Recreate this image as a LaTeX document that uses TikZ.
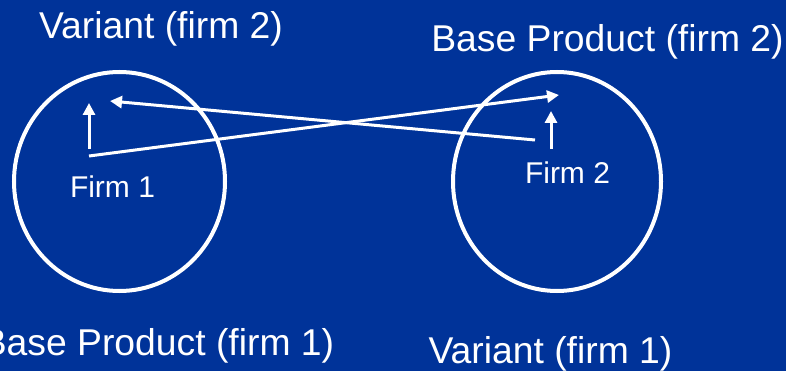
\documentclass[tikz,border=0pt]{standalone}
\usepackage{fontspec}
\setmainfont{Liberation Sans}
\usetikzlibrary{arrows.meta,shapes.geometric}
\definecolor{bgblue}{RGB}{0,51,153}
\tikzset{
  bigtext/.style={text=white, inner sep=0pt, anchor=base, font=\fontsize{37.3}{41}\selectfont},
  firmtext/.style={text=white, inner sep=0pt, anchor=base, font=\fontsize{30}{34}\selectfont},
  market/.style={draw=white, line width=4pt, ellipse, minimum height=219pt, inner sep=0pt},
  link/.style={draw=white, line width=3pt, -{Triangle[width=12pt,length=12pt]}}
}
\begin{document}
\begin{tikzpicture}[x=1pt,y=-1pt]
\fill[bgblue] (0,0) rectangle (786,371);
\useasboundingbox (0,0) rectangle (786,371);
% markets
\node[market, minimum width=211pt] (m1) at (119.5,181.5) {};
\node[market, minimum width=208pt] (m2) at (557,181.5) {};
% labels
\node[bigtext] (v2) at (161,39) {Variant (firm 2)};
\node[bigtext] (b2) at (607.5,52) {Base Product (firm 2)};
\node[bigtext] (b1) at (158,355) {Base Product (firm 1)};
\node[bigtext] (v1) at (550.5,363) {Variant (firm 1)};
\node[firmtext] (f1) at (112.5,198) {Firm 1};
\node[firmtext] (f2) at (567.5,184) {Firm 2};
% arrow end points
\coordinate (a1s) at (89,149);
\coordinate (a1e) at (89,103);
\coordinate (a2s) at (551,149);
\coordinate (a2e) at (551,111);
\coordinate (c1s) at (89,156);
\coordinate (c1e) at (559,95);
\coordinate (c2s) at (535,140);
\coordinate (c2e) at (110,101);
\draw[link] (a1s) -- (a1e);
\draw[link] (a2s) -- (a2e);
\draw[link] (c1s) -- (c1e);
\draw[link] (c2s) -- (c2e);
\end{tikzpicture}
\end{document}
